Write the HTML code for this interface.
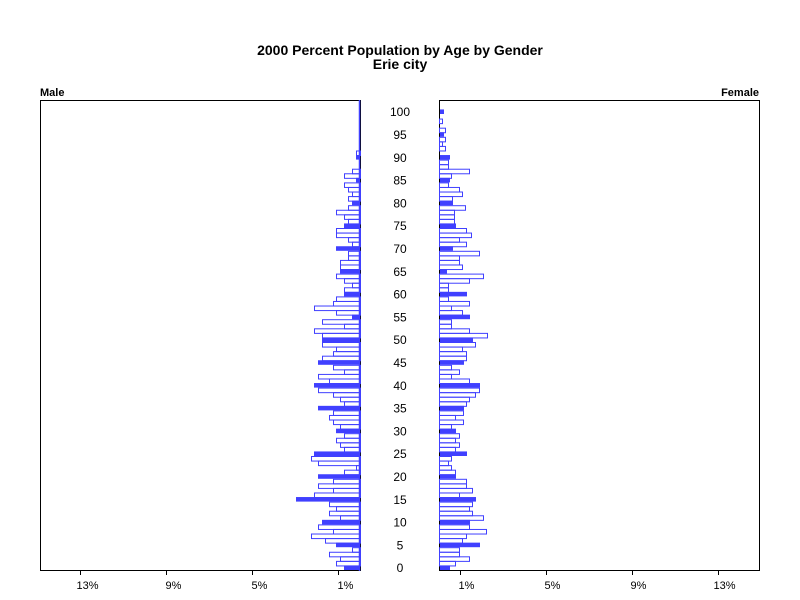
<!DOCTYPE html>
<html><head><meta charset="utf-8"><style>body{margin:0;background:#fff}svg{display:block}</style></head>
<body>
<svg id="s" width="800" height="600" xmlns="http://www.w3.org/2000/svg" font-family="Liberation Sans, Arial, sans-serif">
<text x="400" y="55" font-size="14" font-weight="bold" text-anchor="middle">2000 Percent Population by Age by Gender</text>
<text x="400" y="69" font-size="14" font-weight="bold" text-anchor="middle">Erie city</text>
<text x="40" y="96" font-size="11" font-weight="bold">Male</text>
<text x="759" y="96" font-size="11" font-weight="bold" text-anchor="end">Female</text>
<rect x="40.5" y="100.5" width="320" height="470" fill="none" stroke="#000"/>
<rect x="439.5" y="100.5" width="320" height="470" fill="none" stroke="#000"/>
<g id="bars"></g>
</svg>
<script>
var L={100:0,91:4,90:4,87:8,86:16,85:4,84:16,83:12,82:8,81:12,80:8,79:12,78:24,77:16,76:12,75:16,74:24,73:24,72:12,71:8,70:24,69:12,68:12,67:20,66:20,65:20,64:24,63:16,62:8,61:16,60:16,59:24,58:27,57:46,56:24,55:8,54:38,53:16,52:46,51:38,50:38,49:38,48:24,47:27,46:38,45:42,44:27,43:16,42:42,41:31,40:46,39:42,38:27,37:20,36:16,35:42,34:27,33:31,32:27,31:20,30:24,29:16,28:24,27:20,26:16,25:46,24:49,23:42,22:4,21:16,20:42,19:27,18:42,17:27,16:46,15:64,14:31,13:24,12:31,11:20,10:38,9:42,8:27,7:49,6:35,5:24,4:8,3:31,2:20,1:24,0:16};
var R={100:4,98:3,96:6,95:4,94:6,93:3,92:6,90:10,89:9,88:9,87:30,86:12,85:10,84:9,83:20,82:23,81:13,80:13,79:26,78:15,77:15,76:15,75:16,74:27,73:32,72:20,71:27,70:13,69:40,68:20,67:20,66:23,65:7,64:44,63:30,62:9,61:9,60:27,59:9,58:30,57:12,56:23,55:30,54:12,53:12,52:30,51:48,50:33,49:36,48:23,47:27,46:27,45:24,44:12,43:20,42:12,41:30,40:40,39:40,38:36,37:30,36:27,35:24,34:24,33:16,32:24,31:12,30:16,29:20,28:16,27:20,26:16,25:27,24:12,23:9,22:12,21:16,20:16,19:27,18:27,17:33,16:20,15:36,14:33,13:30,12:33,11:44,10:30,9:30,8:47,7:27,6:23,5:40,4:20,3:20,2:30,1:16,0:10};
var h='',B='#4040ff',p=4.56;
for(var a=0;a<=100;a++){
 var yt=570-(a+1)*p, f=(a%5==0);
 var l=L[a]||0, r=R[a]||0;
 if(l>0){ if(f) h+='<rect x="'+(360-l)+'" y="'+yt.toFixed(2)+'" width="'+l+'" height="'+p+'" fill="'+B+'"/>';
  else h+='<rect x="'+(360.5-l)+'" y="'+(yt+0.5).toFixed(2)+'" width="'+(l)+'" height="'+(p)+'" fill="none" stroke="'+B+'"/>';}
 if(r>0){ if(f) h+='<rect x="440" y="'+yt.toFixed(2)+'" width="'+r+'" height="'+p+'" fill="'+B+'"/>';
  else h+='<rect x="439.5" y="'+(yt+0.5).toFixed(2)+'" width="'+r+'" height="'+p+'" fill="none" stroke="'+B+'"/>';}
 if(a%5==0) h+='<text x="400" y="'+(yt+p/2+4.5).toFixed(2)+'" font-size="12" text-anchor="middle">'+a+'</text>';
}
h+='<line x1="359.5" y1="100" x2="359.5" y2="571" stroke="'+B+'" stroke-width="1.5"/>';
var t=[1,5,9,13];
for(var i=0;i<4;i++){var d=t[i]*21.5;
 var xl=360-d, xr=439+d;
 h+='<line x1="'+xl+'" y1="570" x2="'+xl+'" y2="575" stroke="#000"/><line x1="'+xr+'" y1="570" x2="'+xr+'" y2="575" stroke="#000"/>';
 h+='<text x="'+(xl+7)+'" y="589" font-size="11" text-anchor="middle">'+t[i]+'%</text>';
 h+='<text x="'+(xr+6)+'" y="589" font-size="11" text-anchor="middle">'+t[i]+'%</text>';}
document.getElementById('bars').innerHTML=h;
</script>
</body></html>
